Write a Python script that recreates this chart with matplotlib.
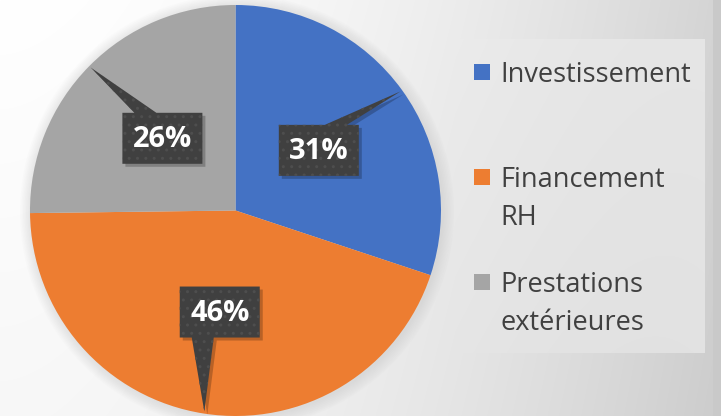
import numpy as np
import matplotlib.pyplot as plt
from matplotlib.patches import Polygon, Rectangle, Circle

# ======================
# DATA
# ======================
categories = ["Investissement", "Financement\nRH", "Prestations\nextérieures"]
shares = [30.1, 44.7, 25.2]
pct_labels = ["31%", "46%", "26%"]
colors = ["#4472C4", "#ED7D31", "#A5A5A5"]

W, H = 721, 416
cx, cy, R = 235.5, H - 210.5, 205.5

fig = plt.figure(figsize=(W / 100, H / 100), dpi=100)
ax = fig.add_axes([0, 0, 1, 1])

# background gradient (white top-left -> grey right), legend panel lighter
xx, yy = np.meshgrid(np.arange(W), np.arange(H))
bg = 1 - 0.17 * (xx / W) ** 1.8 - 0.03 * (yy / H)
panel = (xx >= 455) & (xx < 705) & (yy >= 39) & (yy < 353)
ramp = np.clip((xx - 455) / 250, 0, 1) * 0.4
bg = np.where(panel, bg + (1 - bg) * ramp, bg)
bg[:, 713:] = 0.79
ax.imshow(np.dstack([bg, bg, bg]), extent=(0, W, 0, H), origin="upper", zorder=0)

# soft shadow around the pie
for k in range(8):
    ax.add_patch(Circle((cx + 1.5, cy - 1.5), R + 1 + k * 1.5, facecolor="#808080",
                        alpha=0.018, linewidth=0, zorder=1))

wedges, _ = ax.pie(shares, colors=colors, startangle=90, counterclock=False,
                   center=(cx, cy), radius=R, wedgeprops=dict(linewidth=0))
for w in wedges:
    w.set_zorder(2)

# data label callouts
bw, bh = 80, 51
for w, lab in zip(wedges, pct_labels):
    mid = np.deg2rad((w.theta1 + w.theta2) / 2)
    bx = cx + 0.5 * R * np.cos(mid)
    by = cy + 0.5 * R * np.sin(mid)
    tx = cx + 0.99 * R * np.cos(mid)
    ty = cy + 0.99 * R * np.sin(mid)
    dx, dy = tx - bx, ty - by
    x0, x1, y0, y1 = bx - bw / 2, bx + bw / 2, by - bh / 2, by + bh / 2
    ey = y1 if dy > 0 else y0
    ex = bx + np.sign(dx) * 17
    if dy > 0:
        pts = [(x0, y0), (x1, y0), (x1, y1), (ex + 11, ey), (tx, ty), (ex - 11, ey), (x0, y1)]
    else:
        pts = [(x0, y0), (ex - 11, ey), (tx, ty), (ex + 11, ey), (x1, y0), (x1, y1), (x0, y1)]
    ax.add_patch(Polygon([(px + 3, py - 3) for px, py in pts], closed=True,
                         facecolor="#000000", alpha=0.22, linewidth=0, zorder=3))
    ax.add_patch(Polygon(pts, closed=True, facecolor="#404040", edgecolor="#4E4E4E",
                         hatch="..", linewidth=0, zorder=4))
    ax.text(bx, by - 1, lab, ha="center", va="center", color="white",
            fontsize=21, fontweight="bold", family="Open Sans", zorder=5)

# legend
leg_y = [H - 82, H - 187, H - 292]
for col, name, y in zip(colors, categories, leg_y):
    ax.add_patch(Rectangle((474, y + 2), 16, 16, facecolor=col, linewidth=0, zorder=5))
    for i, line in enumerate(name.split("\n")):
        ax.text(500, y - i * 38, line, ha="left", va="baseline", color="#404040",
                fontsize=19.5, family="Open Sans", zorder=5)

ax.set_xlim(0, W)
ax.set_ylim(0, H)
ax.set_aspect("equal")
ax.axis("off")

fig.savefig("out.png", dpi=100)
